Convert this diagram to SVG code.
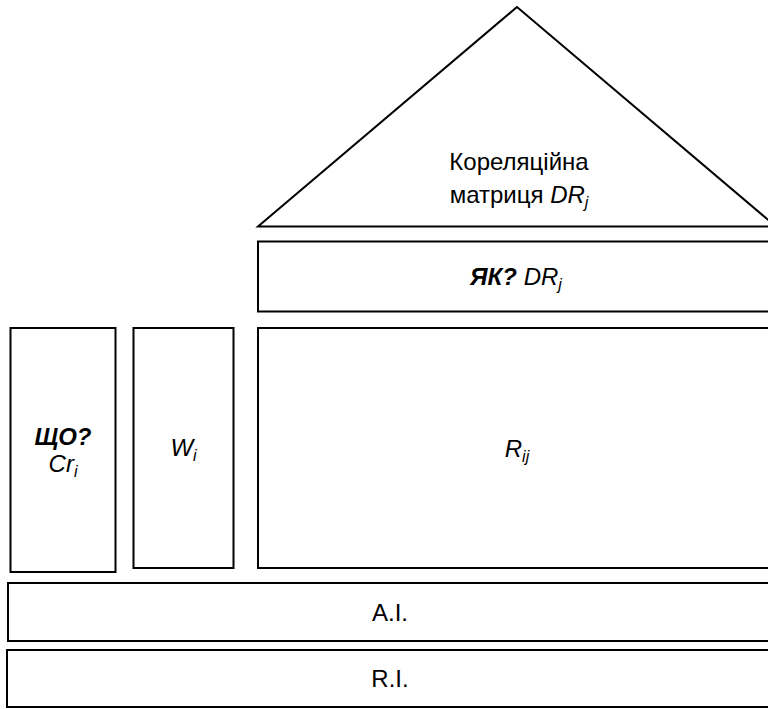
<svg xmlns="http://www.w3.org/2000/svg" width="768" height="709" viewBox="0 0 768 709">
<style>
.box{fill:#fff;stroke:#000;stroke-width:2}
text{font-family:"Liberation Sans",Arial,sans-serif;font-size:24px;fill:#000;text-anchor:middle}
.i{font-style:italic}
.bi{font-style:italic;font-weight:bold}
.sub{font-size:16px;font-style:italic}
</style>
<rect width="768" height="709" fill="#fff"/>
<g id="roof">
<polygon class="box" points="517,7 258,226.5 776,226.5"/>
<text x="519" y="170">Кореляційна</text>
<text x="519" y="203">матриця <tspan class="i">DR</tspan><tspan class="sub" dy="5">j</tspan></text>
</g>
<g id="how">
<rect class="box" x="258" y="241.5" width="518" height="70"/>
<text x="516" y="285"><tspan class="bi">ЯК?</tspan> <tspan class="i">DR</tspan><tspan class="sub" dy="5">j</tspan></text>
</g>
<g id="what">
<rect class="box" x="10.5" y="328" width="105" height="244"/>
<text x="63" y="445" class="bi">ЩО?</text>
<text x="63" y="472"><tspan class="i">Cr</tspan><tspan class="sub" dy="5">i</tspan></text>
</g>
<g id="weights">
<rect class="box" x="133.5" y="328" width="100" height="240"/>
<text x="183.5" y="456"><tspan class="i">W</tspan><tspan class="sub" dy="5">i</tspan></text>
</g>
<g id="relations">
<rect class="box" x="258" y="328" width="518" height="240"/>
<text x="517" y="457"><tspan class="i">R</tspan><tspan class="sub" dy="5">ij</tspan></text>
</g>
<g id="ai">
<rect class="box" x="8" y="583" width="768" height="58"/>
<text x="390" y="621">A.I.</text>
</g>
<g id="ri">
<rect class="box" x="7" y="650" width="769" height="57"/>
<text x="390" y="687">R.I.</text>
</g>
<g id="connectors"></g>
</svg>
